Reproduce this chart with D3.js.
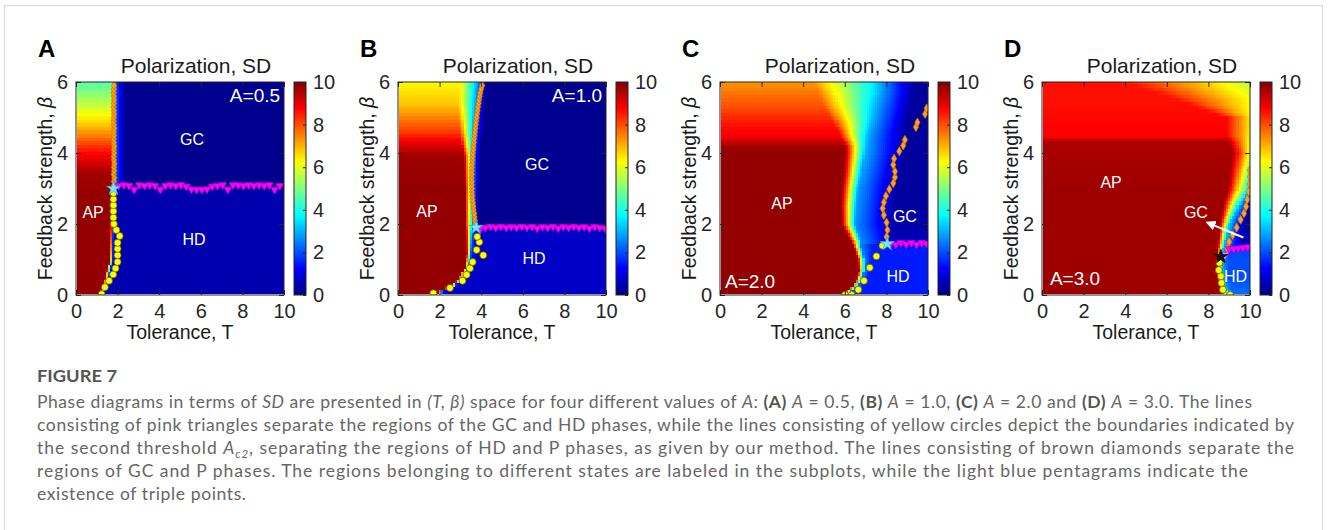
<!DOCTYPE html>
<html>
<head>
<meta charset="utf-8">
<script src="https://cdn.jsdelivr.net/npm/d3@7"></script>
<style>
  body { margin: 0; background: #fff; }
  .plot text { font-family: 'Liberation Sans', Arial, sans-serif; }
  .caption text { font-family: Lato, 'Open Sans', sans-serif; }
</style>
</head>
<body>
<svg id="fig" width="1328" height="530"></svg>
<script>
// ---- data ----
const panelIds = ['A', 'B', 'C', 'D']
const ampLabels = ['A=0.5', 'A=1.0', 'A=2.0', 'A=3.0']
const xTicks = [0, 2, 4, 6, 8, 10]
const yTicks = [0, 2, 4, 6]
const cbTicks = [0, 2, 4, 6, 8, 10]

// SD profile per beta row: [beta, left SD, T where drop starts, T of knee, SD at knee, T where tail ends, right SD]
const fieldA = [
  [0.0, 9.8, 1.1, 1.3, 1.5, 1.45, 0.45],
  [0.3, 9.8, 1.3, 1.48, 1.5, 1.65, 0.45],
  [0.7, 9.8, 1.48, 1.66, 1.5, 1.85, 0.45],
  [1.0, 9.8, 1.65, 1.78, 1.6, 1.98, 0.45],
  [2.95, 9.8, 1.72, 1.84, 1.6, 2.05, 0.45],
  [3.05, 9.7, 1.74, 1.86, 2.3, 2.35, 0.15],
  [3.4, 9.7, 1.74, 1.86, 2.3, 2.35, 0.15],
  [3.9, 8.9, 1.74, 1.86, 2.3, 2.35, 0.15],
  [4.2, 8.3, 1.74, 1.86, 2.3, 2.35, 0.15],
  [4.5, 7.5, 1.74, 1.86, 2.3, 2.35, 0.15],
  [4.8, 6.8, 1.74, 1.86, 2.3, 2.35, 0.15],
  [5.1, 6.2, 1.74, 1.86, 2.3, 2.35, 0.15],
  [5.4, 5.6, 1.74, 1.86, 2.3, 2.35, 0.15],
  [5.8, 4.9, 1.74, 1.86, 2.3, 2.35, 0.15],
  [6.0, 4.6, 1.74, 1.86, 2.3, 2.35, 0.15]
]
const fieldB = [
  [0.0, 9.8, 1.55, 1.75, 1.6, 1.95, 0.7],
  [0.15, 9.8, 2.1, 2.3, 1.6, 2.5, 0.7],
  [0.3, 9.8, 2.6, 2.8, 1.6, 3.0, 0.7],
  [0.5, 9.8, 2.95, 3.15, 1.6, 3.35, 0.7],
  [0.8, 9.8, 3.2, 3.4, 1.8, 3.6, 0.7],
  [1.2, 9.8, 3.28, 3.5, 2.0, 3.75, 0.7],
  [1.85, 9.8, 3.25, 3.55, 2.3, 3.85, 0.7],
  [1.95, 9.8, 3.2, 3.6, 2.5, 3.9, 0.15],
  [3.0, 9.8, 3.2, 3.6, 2.5, 3.9, 0.15],
  [3.9, 9.7, 3.15, 3.6, 2.7, 3.95, 0.15],
  [4.3, 9.0, 3.05, 3.6, 2.8, 4.0, 0.15],
  [4.6, 8.2, 3.0, 3.6, 2.9, 4.1, 0.15],
  [5.0, 7.5, 2.95, 3.65, 2.9, 4.15, 0.15],
  [5.4, 6.8, 2.95, 3.7, 2.9, 4.2, 0.15],
  [6.0, 6.3, 3.0, 3.8, 2.9, 4.3, 0.15]
]
const fieldC = [
  [0.0, 9.8, 5.9, 6.15, 2.5, 6.4, 1.5],
  [0.1, 9.8, 6.05, 6.3, 2.5, 6.55, 1.5],
  [0.35, 9.8, 6.5, 6.75, 2.5, 7.0, 1.5],
  [0.7, 9.8, 6.7, 6.95, 2.5, 7.2, 1.5],
  [1.0, 9.8, 6.65, 6.95, 2.5, 7.25, 1.5],
  [1.4, 9.8, 6.4, 6.8, 2.5, 7.3, 1.5],
  [1.5, 9.8, 6.3, 6.8, 2.6, 8.4, 0.6],
  [2.0, 9.8, 5.85, 6.5, 2.7, 8.3, 0.4],
  [2.5, 9.8, 5.8, 6.55, 2.8, 8.4, 0.3],
  [3.0, 9.8, 5.85, 6.65, 2.8, 8.5, 0.3],
  [3.5, 9.8, 5.95, 6.8, 2.9, 8.7, 0.3],
  [4.0, 9.8, 6.0, 6.95, 3.0, 8.9, 0.3],
  [4.2, 9.7, 6.0, 7.0, 3.0, 8.9, 0.3],
  [4.45, 8.9, 5.8, 7.05, 3.0, 8.9, 0.3],
  [4.9, 8.5, 5.4, 7.25, 3.1, 9.0, 0.3],
  [5.3, 8.0, 5.0, 7.35, 3.2, 9.2, 0.3],
  [5.7, 7.6, 4.7, 7.45, 3.4, 9.3, 0.3],
  [6.0, 7.3, 4.5, 7.45, 3.4, 9.3, 0.3]
]
const fieldD = [
  [0.0, 9.7, 8.75, 9.0, 3.0, 9.3, 2.4],
  [0.2, 9.7, 8.6, 8.85, 3.0, 9.1, 2.2],
  [0.5, 9.7, 8.45, 8.7, 3.0, 9.0, 2.0],
  [1.0, 9.7, 8.4, 8.65, 3.0, 8.95, 2.0],
  [1.3, 9.7, 8.42, 8.7, 3.0, 9.0, 1.9],
  [1.4, 9.7, 8.45, 8.75, 3.0, 9.6, 0.6],
  [2.0, 9.7, 8.55, 9.0, 3.3, 9.7, 0.3],
  [2.5, 9.7, 8.7, 9.45, 3.0, 10.0, 0.3],
  [3.0, 9.7, 8.95, 10.0, 3.0, 10.5, 0.3],
  [4.0, 9.6, 9.2, 10.2, 5.0, 10.8, 0.3],
  [4.3, 9.6, 9.0, 10.2, 5.3, 11, 0.3],
  [4.5, 8.8, 8.9, 10.3, 5.6, 11, 0.3],
  [5.0, 8.7, 8.9, 10.3, 5.8, 11, 0.3],
  [5.5, 8.6, 6.5, 10.3, 6.0, 11, 0.3],
  [6.0, 8.6, 4.0, 10.2, 5.5, 11, 0.3]
]

// markers as [T, beta]
const circlesA = [[1.23, 0.02], [1.39, 0.22], [1.59, 0.4], [1.79, 0.58], [1.9, 0.75], [2.0, 0.93], [2.0, 1.12],
  [2.0, 1.3], [2.0, 1.47], [2.1, 1.66], [1.94, 1.83], [1.82, 2.0], [1.8, 2.18], [1.8, 2.36], [1.8, 2.53], [1.8, 2.7], [1.8, 2.87]]
const diamondsA = [[1.84, 3.1], [1.82, 3.2], [1.84, 3.3], [1.81, 3.4], [1.83, 3.5], [1.82, 3.6], [1.84, 3.7], [1.82, 3.8],
  [1.81, 3.9], [1.83, 4.0], [1.82, 4.1], [1.84, 4.2], [1.82, 4.3], [1.81, 4.4], [1.83, 4.5], [1.82, 4.6], [1.84, 4.7],
  [1.82, 4.8], [1.81, 4.9], [1.82, 5.0], [1.83, 5.1], [1.82, 5.2], [1.81, 5.3], [1.82, 5.4], [1.83, 5.5], [1.82, 5.6],
  [1.81, 5.7], [1.82, 5.8], [1.83, 5.9]]
const trianglesA = [[2.05, 3.08], [2.3, 3.1], [2.55, 3.08], [2.8, 2.97], [3.05, 3.1], [3.3, 3.08], [3.55, 3.1], [3.8, 3.08],
  [4.05, 2.97], [4.3, 3.08], [4.55, 3.1], [4.8, 3.08], [5.05, 3.1], [5.3, 3.06], [5.55, 2.98], [5.8, 2.97], [6.05, 2.97],
  [6.3, 2.98], [6.55, 3.06], [6.8, 3.08], [7.05, 3.1], [7.3, 2.97], [7.55, 3.1], [7.8, 3.1], [8.05, 3.08], [8.3, 3.1],
  [8.55, 3.08], [8.8, 3.1], [9.05, 3.08], [9.3, 3.1], [9.55, 2.97], [9.8, 3.08]]
const starsA = [[1.8, 3.0]]

const circlesB = [[1.7, 0.05], [2.5, 0.2], [3.1, 0.4], [3.3, 0.57], [3.46, 0.75], [3.59, 0.93], [4.1, 1.12],
  [3.78, 1.27], [3.91, 1.49], [3.81, 1.64]]
const diamondsB = [[3.72, 2.0], [3.7, 2.1], [3.68, 2.2], [3.66, 2.3], [3.63, 2.4], [3.62, 2.5], [3.6, 2.6], [3.58, 2.7],
  [3.57, 2.8], [3.56, 2.9], [3.56, 3.0], [3.55, 3.1], [3.55, 3.2], [3.54, 3.3], [3.55, 3.4], [3.55, 3.5], [3.56, 3.6],
  [3.57, 3.7], [3.58, 3.8], [3.59, 3.9], [3.6, 4.0], [3.62, 4.1], [3.63, 4.2], [3.65, 4.3], [3.66, 4.4], [3.68, 4.5],
  [3.7, 4.6], [3.72, 4.7], [3.74, 4.8], [3.76, 4.9], [3.78, 5.0], [3.8, 5.1], [3.83, 5.2], [3.85, 5.3], [3.88, 5.4],
  [3.9, 5.5], [3.93, 5.6], [3.96, 5.7], [4.0, 5.8], [4.05, 5.9]]
const trianglesB = [[3.95, 1.85], [4.2, 1.9], [4.45, 1.93], [4.7, 1.9], [4.95, 1.93], [5.2, 1.9], [5.45, 1.92], [5.7, 1.9],
  [5.95, 1.93], [6.2, 1.9], [6.45, 1.92], [6.7, 1.88], [6.95, 1.92], [7.2, 1.9], [7.45, 1.93], [7.7, 1.88], [7.95, 1.92],
  [8.2, 1.9], [8.45, 1.93], [8.7, 1.9], [8.95, 1.92], [9.2, 1.88], [9.45, 1.92], [9.7, 1.9], [9.95, 1.88]]
const starsB = [[3.75, 1.9]]

const circlesC = [[6.01, 0.0], [6.33, 0.0], [6.65, 0.15], [6.92, 0.4], [7.2, 0.77], [7.52, 1.09], [7.81, 1.39]]
const diamondsC = [[8.01, 1.64], [8.05, 1.83], [8.01, 2.04], [7.88, 2.25], [7.82, 2.44], [7.88, 2.61], [7.98, 2.79],
  [8.14, 2.98], [8.33, 3.15], [8.41, 3.32], [8.41, 3.48], [8.33, 3.67], [8.37, 3.84], [8.62, 4.05], [8.81, 4.21],
  [8.89, 4.37], [9.42, 4.73], [9.49, 4.86], [9.86, 5.1], [9.94, 5.26]]
const trianglesC = [[8.2, 1.45], [8.45, 1.42], [8.7, 1.47], [8.95, 1.43], [9.2, 1.47], [9.45, 1.42], [9.7, 1.47], [9.92, 1.45]]
const starsC = [[8.04, 1.44]]

const circlesD = [[9.04, 0.0], [8.7, 0.15], [8.63, 0.34], [8.6, 0.53], [8.5, 0.7], [8.53, 0.91]]
const diamondsD = [[8.91, 1.31], [9.0, 1.5], [9.17, 1.69], [9.36, 1.9], [9.55, 2.12], [9.71, 2.3], [9.81, 2.49],
  [9.87, 2.69], [9.94, 2.91], [9.98, 3.13], [10.0, 3.33], [10.0, 3.52]]
const trianglesD = [[9.0, 1.3], [9.22, 1.3], [9.44, 1.32], [9.66, 1.33], [9.88, 1.35]]
const openTrianglesD = [[8.78, 1.12]]
const starsD = [[8.6, 1.08]]
const arrowD = [[9.68, 1.62], [7.95, 2.04]]

// phase labels [text, T, beta]
const phaseA = [['AP', 0.82, 2.31], ['GC', 5.58, 4.37], ['HD', 5.67, 1.55]]
const phaseB = [['AP', 1.39, 2.34], ['GC', 6.68, 3.69], ['HD', 6.54, 1.04]]
const phaseC = [['AP', 2.98, 2.59], ['GC', 8.89, 2.2], ['HD', 8.56, 0.51]]
const phaseD = [['AP', 3.32, 3.17], ['GC', 7.4, 2.31], ['HD', 9.3, 0.53]]

const captionTitle = 'FIGURE 7'
const captionLines = [
  [['Phase diagrams in terms of ', ''], ['SD', 'i'], [' are presented in ', ''], ['(T, β)', 'i'],
    [' space for four different values of ', ''], ['A', 'i'], [': ', ''], ['(A)', 'b'], [' ', ''], ['A', 'i'],
    [' = 0.5, ', ''], ['(B)', 'b'], [' ', ''], ['A', 'i'], [' = 1.0, ', ''], ['(C)', 'b'], [' ', ''], ['A', 'i'],
    [' = 2.0 and ', ''], ['(D)', 'b'], [' ', ''], ['A', 'i'], [' = 3.0. The lines', '']],
  [['consisting of pink triangles separate the regions of the GC and HD phases, while the lines consisting of yellow circles depict the boundaries indicated by', '']],
  [['the second threshold ', ''], ['A', 'i'], ['c2', 'sub'], [', separating the regions of HD and P phases, as given by our method. The lines consisting of brown diamonds separate the', '']],
  [['regions of GC and P phases. The regions belonging to different states are labeled in the subplots, while the light blue pentagrams indicate the', '']],
  [['existence of triple points.', '']]
]
const captionWidths = [1215, 1257, 1257, 1211, 209]

// ---- layout ----
const panelX = [76, 398, 720, 1042]
const plotW = 208
const plotTop = 82
const plotBottom = 295
const axisColor = '#262626'

const jet = d3.scaleLinear()
  .domain([0, 1.25, 3.75, 6.25, 8.75, 10])
  .range(['#000080', '#0000ff', '#00ffff', '#ffff00', '#ff0000', '#800000'])
  .clamp(true)

const svg = d3.select('#fig')
const defs = svg.append('defs')

svg.append('rect')
  .attr('x', 4.5).attr('y', 5.5).attr('width', 1318).attr('height', 600)
  .attr('fill', 'none').attr('stroke', '#d9d9d9')

const grad = defs.append('linearGradient').attr('id', 'jetgrad')
  .attr('x1', 0).attr('y1', 1).attr('x2', 0).attr('y2', 0)
grad.selectAll('stop').data(jet.domain()).join('stop')
  .attr('offset', (d) => d / 10)
  .attr('stop-color', (d) => jet(d))

defs.append('marker').attr('id', 'arrowhead')
  .attr('viewBox', '0 0 10 10').attr('refX', 8).attr('refY', 5)
  .attr('markerWidth', 5).attr('markerHeight', 5).attr('orient', 'auto')
  .append('path').attr('d', 'M0,0 L10,5 L0,10 z').attr('fill', '#fff')

function rowParams(rows, b) {
  const i = d3.bisector((r) => r[0]).right(rows, b)
  if (i <= 0) return rows[0]
  if (i >= rows.length) return rows[rows.length - 1]
  const a = rows[i - 1]
  const c = rows[i]
  const f = (b - a[0]) / (c[0] - a[0])
  return a.map((v, k) => v + (c[k] - v) * f)
}

function sdAt(p, t) {
  const [, L, t1, t2, M, t3, R] = p
  if (t <= t1) return L
  if (t <= t2) return L + (M - L) * (t - t1) / (t2 - t1)
  if (t <= t3) return M + (R - M) * (t - t2) / (t3 - t2)
  return R
}

const tCells = d3.range(1, 101).map((i) => i / 10)
const bCells = d3.range(1, 61).map((j) => j / 10)

const panels = [
  { field: fieldA, circles: circlesA, diamonds: diamondsA, triangles: trianglesA, stars: starsA, phase: phaseA, amp: [9.81, 5.44, 'end'] },
  { field: fieldB, circles: circlesB, diamonds: diamondsB, triangles: trianglesB, stars: starsB, phase: phaseB, amp: [9.81, 5.44, 'end'] },
  { field: fieldC, circles: circlesC, diamonds: diamondsC, triangles: trianglesC, stars: starsC, phase: phaseC, amp: [0.24, 0.2, 'start'] },
  { field: fieldD, circles: circlesD, diamonds: diamondsD, triangles: trianglesD, stars: starsD, phase: phaseD, amp: [0.38, 0.28, 'start'] }
]

function drawMarks(g, x, y, pts, type, size, fill, stroke, rot) {
  g.append('g').selectAll('path').data(pts).join('path')
    .attr('d', d3.symbol(type, size))
    .attr('transform', (d) => `translate(${x(d[0])},${y(d[1])})` + (rot ? ' rotate(180)' : ''))
    .attr('fill', fill)
    .attr('stroke', stroke)
    .attr('stroke-width', 0.7)
}

const fmt = d3.format('d')

panels.forEach((p, k) => {
  const x0 = panelX[k]
  const x = d3.scaleLinear().domain([0, 10]).range([x0, x0 + plotW])
  const y = d3.scaleLinear().domain([0, 6]).range([plotBottom, plotTop])
  const g = svg.append('g').attr('class', 'plot')

  defs.append('clipPath').attr('id', 'clip' + k)
    .append('rect').attr('x', x0).attr('y', plotTop).attr('width', plotW).attr('height', plotBottom - plotTop)

  // heatmap
  const cells = []
  bCells.forEach((b) => {
    const prm = rowParams(p.field, b)
    tCells.forEach((t) => cells.push({ t, b, v: sdAt(prm, t) }))
  })
  const cw = x(0.1) - x(0)
  const ch = y(0) - y(0.1)
  g.append('g').attr('clip-path', `url(#clip${k})`)
    .selectAll('rect').data(cells).join('rect')
    .attr('x', (d) => x(d.t - 0.05))
    .attr('y', (d) => y(d.b + 0.05))
    .attr('width', cw + 0.5)
    .attr('height', ch + 0.5)
    .attr('fill', (d) => jet(d.v))
    .attr('shape-rendering', 'crispEdges')

  // markers
  const mk = g.append('g').attr('clip-path', `url(#clip${k})`)
  drawMarks(mk, x, y, p.diamonds, d3.symbolDiamond, 24, '#ffa21f', '#c97400', false)
  drawMarks(mk, x, y, p.triangles, d3.symbolTriangle, 26, '#ff00ff', '#c000c0', true)
  if (k === 3) drawMarks(mk, x, y, openTrianglesD, d3.symbolTriangle, 30, '#ffb0ff', '#ff00ff', true)
  drawMarks(mk, x, y, p.circles, d3.symbolCircle, 38, '#ffff00', '#5c5c00', false)
  if (k === 3) drawMarks(mk, x, y, p.stars, d3.symbolStar, 60, '#111', '#000', false)
  else drawMarks(mk, x, y, p.stars, d3.symbolStar, 60, '#7fe3ff', '#29a9c9', false)

  if (k === 3) {
    g.append('line')
      .attr('x1', x(arrowD[0][0])).attr('y1', y(arrowD[0][1]))
      .attr('x2', x(arrowD[1][0])).attr('y2', y(arrowD[1][1]))
      .attr('stroke', '#fff').attr('stroke-width', 2)
      .attr('marker-end', 'url(#arrowhead)')
  }

  // phase labels
  g.append('g').selectAll('text').data(p.phase).join('text')
    .attr('x', (d) => x(d[1])).attr('y', (d) => y(d[2]))
    .attr('text-anchor', 'middle').attr('dominant-baseline', 'central')
    .attr('fill', '#fff').attr('font-size', 16)
    .text((d) => d[0])

  g.append('text')
    .attr('x', x(p.amp[0])).attr('y', y(p.amp[1]))
    .attr('text-anchor', p.amp[2])
    .attr('fill', '#fff').attr('font-size', 19)
    .text(ampLabels[k])

  // axes box + inward ticks
  g.append('rect')
    .attr('x', x0).attr('y', plotTop).attr('width', plotW).attr('height', plotBottom - plotTop)
    .attr('fill', 'none').attr('stroke', axisColor).attr('stroke-width', 1)

  const styleAxis = (sel) => {
    sel.select('.domain').remove()
    sel.selectAll('line').attr('stroke', axisColor)
    sel.selectAll('text').attr('fill', axisColor).attr('font-size', 20)
      .attr('font-family', null)
  }
  g.append('g').attr('transform', `translate(0,${plotBottom})`)
    .call(d3.axisBottom(x).tickValues(xTicks).tickFormat(fmt).tickSize(-5).tickPadding(9)).call(styleAxis)
  g.append('g').attr('transform', `translate(0,${plotTop})`)
    .call(d3.axisTop(x).tickValues(xTicks).tickSize(-5).tickFormat('')).call(styleAxis)
  g.append('g').attr('transform', `translate(${x0},0)`)
    .call(d3.axisLeft(y).tickValues(yTicks).tickFormat(fmt).tickSize(-5).tickPadding(8)).call(styleAxis)
  g.append('g').attr('transform', `translate(${x0 + plotW},0)`)
    .call(d3.axisRight(y).tickValues(yTicks).tickSize(-5).tickFormat('')).call(styleAxis)

  // titles
  g.append('text')
    .attr('x', x0 + plotW / 2 + 16).attr('y', 73)
    .attr('text-anchor', 'middle').attr('font-size', 21).attr('fill', '#1a1a1a')
    .text('Polarization, SD')
  g.append('text')
    .attr('x', x0 + plotW / 2).attr('y', 339)
    .attr('text-anchor', 'middle').attr('font-size', 19.5).attr('fill', '#1a1a1a')
    .text('Tolerance, T')
  const yl = g.append('text')
    .attr('transform', `translate(${x0 - 24},${(plotTop + plotBottom) / 2}) rotate(-90)`)
    .attr('text-anchor', 'middle').attr('font-size', 19.5).attr('fill', '#1a1a1a')
  yl.append('tspan').text('Feedback strength, ')
  yl.append('tspan').attr('font-style', 'italic').text('β')
  g.append('text')
    .attr('x', x0 - 38).attr('y', 57)
    .attr('font-size', 24).attr('font-weight', 'bold').attr('fill', '#000')
    .text(panelIds[k])

  // colorbar
  const cbX = x0 + plotW + 10
  const cb = d3.scaleLinear().domain([0, 10]).range([plotBottom, plotTop])
  g.append('rect')
    .attr('x', cbX).attr('y', plotTop).attr('width', 12).attr('height', plotBottom - plotTop)
    .attr('fill', 'url(#jetgrad)').attr('stroke', axisColor).attr('stroke-width', 1)
  g.append('g').attr('transform', `translate(${cbX + 12},0)`)
    .call(d3.axisRight(cb).tickValues(cbTicks).tickFormat(fmt).tickSize(-3).tickPadding(7)).call(styleAxis)
})

// caption
const cap = svg.append('g').attr('class', 'caption')
cap.append('text')
  .attr('x', 37).attr('y', 382)
  .attr('font-size', 17).attr('font-weight', 'bold').attr('fill', '#555')
  .attr('textLength', 80).attr('lengthAdjust', 'spacingAndGlyphs')
  .text(captionTitle)

captionLines.forEach((segs, i) => {
  const t = cap.append('text')
    .attr('x', 37).attr('y', 408 + i * 23)
    .attr('font-size', 17.5).attr('fill', '#666')
    .attr('textLength', captionWidths[i]).attr('lengthAdjust', 'spacing')
  segs.forEach(([s, st], j) => {
    const ts = t.append('tspan').text(s)
    if (st === 'i') ts.attr('font-style', 'italic')
    if (st === 'b') ts.attr('font-weight', 'bold').attr('fill', '#555')
    if (st === 'sub') ts.attr('font-style', 'italic').attr('font-size', 11.5).attr('dy', 4)
    if (j > 0 && segs[j - 1][1] === 'sub') ts.attr('dy', -4)
  })
})
</script>
</body>
</html>
